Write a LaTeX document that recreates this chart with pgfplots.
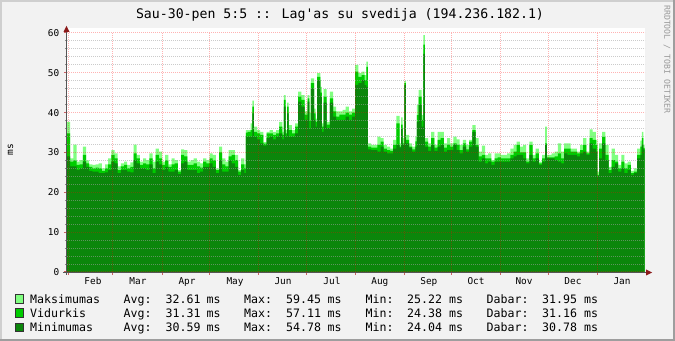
\documentclass[border=0pt]{standalone}
\usepackage{fontspec}
\usepackage{pgfplots}
\pgfplotsset{compat=1.18}
\usepackage{pgfplotstable}
\newfontfamily\mono{DejaVu Sans Mono}
\definecolor{bg}{HTML}{F2F2F2}
\definecolor{shadeA}{HTML}{CFCFCF}
\definecolor{shadeB}{HTML}{9E9E9E}
\definecolor{gmax}{HTML}{80FF80}
\definecolor{gavg}{HTML}{00CC00}
\definecolor{gmin}{HTML}{0B860B}
\definecolor{axisc}{HTML}{555555}
\definecolor{arrowc}{HTML}{8B1A1A}
\pgfplotstableread{
d mx av mn
0 37.7 34.8 29.0
2 28.5 27.7 26.5
4 32.0 28.0 26.5
6 27.7 26.9 25.6
8 28.1 27.0 26.0
10 31.5 29.4 27.7
12 28.0 27.3 26.4
14 27.0 26.4 25.4
16 26.9 26.0 25.2
18 27.0 26.2 25.2
20 27.3 26.0 24.8
22 26.0 25.4 24.8
24 27.0 26.0 25.0
26 28.5 27.0 25.6
28 30.6 29.4 27.7
30 29.8 28.5 27.3
32 26.5 25.6 24.8
34 27.3 26.5 25.6
36 27.7 26.9 25.6
38 26.9 26.0 25.2
40 27.5 26.4 25.0
42 32.0 29.8 28.1
44 29.4 28.5 27.3
46 27.7 26.9 26.0
48 28.5 27.3 26.0
50 28.1 27.0 25.6
52 29.8 28.5 27.0
54 27.7 26.0 24.8
56 31.0 29.4 27.7
58 30.2 28.5 27.0
60 27.7 26.9 25.6
62 29.4 28.0 26.4
64 27.0 26.4 25.2
66 28.5 27.0 25.2
68 28.1 27.3 25.6
70 25.6 25.2 24.6
72 30.8 29.4 27.3
74 30.6 29.0 27.7
76 27.7 26.9 25.6
78 28.1 26.9 25.6
80 28.5 27.3 25.6
82 27.7 26.5 24.8
84 27.3 26.2 25.2
86 28.5 27.7 26.4
88 28.1 27.3 26.4
90 29.8 28.5 27.3
92 29.4 28.0 26.4
94 26.0 25.6 24.8
96 31.5 30.0 28.1
98 28.5 27.0 25.2
100 27.7 26.5 25.2
102 30.6 29.0 28.0
104 30.6 29.4 27.3
106 29.4 28.1 26.4
108 25.6 25.2 24.4
110 28.5 27.0 25.6
112 27.0 26.0 24.8
113 35.6 35.0 34.0
114 35.6 35.2 34.0
116 37.3 35.6 34.0
117 43.0 41.5 39.8
118 36.5 35.2 34.0
120 35.6 34.8 33.3
122 35.2 34.4 32.3
124 32.6 32.2 31.7
126 35.2 34.8 33.6
128 35.6 34.8 34.0
130 35.2 34.4 33.3
132 35.6 34.8 34.0
134 37.7 36.5 34.8
136 35.2 34.4 33.3
137 44.4 43.2 41.5
138 35.6 34.8 34.0
139 42.5 41.5 39.8
140 36.9 35.6 34.0
142 35.6 34.8 34.0
144 37.3 36.5 34.8
146 45.3 44.0 42.8
148 44.4 43.2 41.5
150 40.3 39.5 38.2
152 44.4 43.6 42.8
153 40.0 38.0 36.0
154 48.6 47.4 46.1
156 41.0 39.8 38.2
157 38.5 37.7 36.5
158 49.9 49.0 48.2
160 46.5 45.0 44.0
161 37.3 36.5 35.2
162 45.9 44.0 42.5
164 37.7 37.0 36.1
166 45.3 43.6 42.5
168 41.5 40.3 39.0
170 40.3 39.0 38.2
172 40.3 39.5 38.2
174 40.7 39.5 38.2
176 41.5 40.0 39.0
178 40.3 39.5 38.2
180 41.0 40.0 39.0
182 52.0 50.3 47.0
184 49.9 49.0 47.4
186 50.3 49.4 48.2
188 49.4 48.2 46.9
189 52.8 51.5 46.5
190 32.3 31.5 30.8
192 31.9 31.2 30.6
194 31.9 31.2 30.6
196 34.0 31.9 30.2
198 33.6 32.7 31.5
200 31.9 31.0 30.2
202 31.5 30.6 29.8
204 31.0 30.4 29.8
206 33.2 31.9 31.0
208 39.2 37.3 31.9
210 32.3 31.5 31.2
211 38.8 37.0 36.0
212 33.6 32.3 31.9
213 48.0 47.4 46.9
214 34.4 33.2 32.3
216 32.3 31.5 31.2
218 31.5 30.8 30.2
220 34.0 32.8 31.5
221 41.9 39.4 37.7
222 45.7 44.0 42.0
224 39.4 38.2 36.5
225 59.45 57.11 54.78
226 33.6 32.7 31.5
228 32.3 31.5 30.4
230 35.2 33.6 31.9
232 31.9 31.2 30.4
234 35.2 33.2 31.5
236 35.2 33.6 31.9
238 32.3 31.2 30.2
240 33.6 32.0 30.6
242 32.3 31.5 30.6
244 34.0 32.3 31.9
246 33.3 31.9 30.6
248 31.9 30.6 29.8
250 33.2 32.3 31.5
252 31.9 30.8 30.2
254 33.2 32.7 31.5
256 36.9 35.6 35.2
258 33.6 31.9 31.5
260 30.2 29.0 27.7
262 31.7 29.4 28.5
264 29.4 28.5 27.3
266 29.8 28.5 27.7
268 28.1 27.7 26.9
270 29.8 28.5 27.7
272 29.8 28.8 27.7
274 29.4 28.5 27.7
276 29.4 28.5 27.7
278 29.8 28.5 27.7
280 31.0 29.4 28.5
282 31.9 30.2 29.0
284 32.7 31.9 29.4
286 31.5 30.0 29.4
288 31.9 30.0 28.5
290 28.5 27.7 27.3
292 32.7 31.9 29.4
294 29.4 28.5 27.7
296 31.0 29.8 28.5
298 27.7 27.3 26.9
300 29.4 28.5 27.7
302 36.5 32.3 31.9
303 29.4 28.8 28.5
304 29.4 28.8 28.5
306 29.8 28.8 28.5
308 30.2 29.0 28.1
310 32.3 29.8 27.7
312 30.2 28.5 27.3
314 32.3 31.0 29.8
316 32.3 31.0 29.4
318 31.0 30.2 29.4
320 31.0 30.2 29.4
322 30.2 29.8 29.0
324 31.9 30.6 29.8
326 33.6 31.9 30.2
328 30.2 29.8 29.4
330 35.8 33.6 32.3
332 35.2 33.2 31.0
334 33.2 31.9 30.2
335 25.22 24.38 24.04
336 32.3 31.0 28.5
338 35.2 33.9 32.3
340 31.9 29.4 28.1
342 26.4 25.6 24.8
344 31.0 28.1 26.4
346 29.4 27.7 27.3
348 26.9 26.0 25.2
350 29.4 27.7 26.0
352 27.3 26.0 24.8
354 27.7 26.9 25.6
356 25.4 24.8 24.4
358 26.0 25.2 24.8
360 31.0 29.4 28.5
362 33.0 31.5 29.4
363 35.2 33.6 31.9
364 31.95 31.16 30.78
364.7 31.95 31.16 30.78
}\data
\newcommand{\lf}{\mono\fontsize{11.6bp}{13bp}\selectfont}
\begin{document}
\begin{tikzpicture}
\path[use as bounding box] (0,0) rectangle (675bp,341bp);
\fill[bg] (0,0) rectangle (675bp,341bp);
\fill[shadeA] (0,0) rectangle (2bp,341bp);
\fill[shadeA] (0,339bp) rectangle (675bp,341bp);
\fill[shadeB] (673bp,0) rectangle (675bp,341bp);
\fill[shadeB] (0,0) rectangle (675bp,2bp);
\fill[white] (67bp,69bp) rectangle (645bp,313bp);
\begin{axis}[
  at={(67bp,69bp)}, anchor=south west, scale only axis,
  width=578bp, height=239bp,
  xmin=0, xmax=365, ymin=0, ymax=60,
  axis line style={draw=none},
  axis on top,
  xtick={1,29,60,90,121,151,182,213,243,274,304,335},
  xticklabels={},
  extra x ticks={16.4,44.8,75.8,106.1,136.4,167.3,197.6,228.5,258.3,288.6,319.5,350.5},
  extra x tick labels={Feb,Mar,Apr,May,Jun,Jul,Aug,Sep,Oct,Nov,Dec,Jan},
  extra x tick style={grid=none, major tick length=0pt},
  ytick={0,10,20,30,40,50,60},
  minor y tick num=4,
  xmajorgrids, ymajorgrids, yminorgrids,
  major grid style={draw=red, opacity=0.3, line width=1bp, dash pattern=on 1bp off 1bp},
  minor grid style={draw=black!37, opacity=0.55, line width=1bp, dash pattern=on 1bp off 1bp},
  tick align=outside, xtick pos=bottom, ytick pos=left,
  major tick length=3bp, minor tick length=2bp,
  major tick style={draw=red!70!black, opacity=0.6, line width=1bp},
  minor tick style={draw=black!45, line width=1bp},
  /pgf/number format/assume math mode=true,
  ticklabel style={font=\mono\fontsize{9.4bp}{11bp}\selectfont, text=black},
  yticklabel style={inner sep=0pt, xshift=-4.5bp},
  xticklabel style={anchor=base, inner sep=0pt, yshift=-13bp},
]
\addplot[const plot, fill=gmax, draw=none] table[x=d, y=mx] {\data} \closedcycle;
\addplot[const plot, fill=gavg, draw=none] table[x=d, y=av] {\data} \closedcycle;
\addplot[const plot, fill=gmin, draw=none] table[x=d, y=mn] {\data} \closedcycle;
\end{axis}
% axis lines
\draw[axisc, line width=1bp] (63bp,68.5bp) -- (647bp,68.5bp);
\fill[arrowc] (646bp,65.5bp) -- (652bp,68.5bp) -- (646bp,71.5bp) -- cycle;
\draw[axisc, line width=1bp] (66.5bp,66bp) -- (66.5bp,310bp);
\fill[arrowc] (63.5bp,309bp) -- (66.5bp,315bp) -- (69.5bp,309bp) -- cycle;
% title
\node[anchor=base, inner sep=0pt, font=\mono\fontsize{13.2bp}{15bp}\selectfont] at (340bp,322.5bp) {Sau-30-pen 5:5 :: Lag'as su svedija (194.236.182.1)};
% y label
\node[rotate=90, inner sep=0pt, font=\mono\fontsize{9.5bp}{11bp}\selectfont] at (10.5bp,191bp) {ms};
% watermark
\node[rotate=-90, anchor=west, inner sep=0pt, text=black!40, font=\mono\fontsize{8.2bp}{9bp}\selectfont] at (667bp,336bp) {RRDTOOL / TOBI OETIKER};
% legend
\foreach \c/\yb/\nm/\a/\mx/\mi/\cu in {gmax/38/Maksimumas/32.61/59.45/25.22/31.95, gavg/23.7/Vidurkis/31.31/57.11/24.38/31.16, gmin/9.4/Minimumas/30.59/54.78/24.04/30.78}{
  \filldraw[fill=\c, draw=black!80, line width=0.8bp] (15.5bp,\yb bp) rectangle (23.5bp,\yb bp+8.5bp);
  \node[anchor=base west, inner sep=0pt, font=\lf] at (30bp,\yb bp) {\nm};
  \node[anchor=base west, inner sep=0pt, font=\lf] at (123.5bp,\yb bp) {Avg:};
  \node[anchor=base west, inner sep=0pt, font=\lf] at (165.5bp,\yb bp) {\a};
  \node[anchor=base west, inner sep=0pt, font=\lf] at (206.5bp,\yb bp) {ms};
  \node[anchor=base west, inner sep=0pt, font=\lf] at (244bp,\yb bp) {Max:};
  \node[anchor=base west, inner sep=0pt, font=\lf] at (286bp,\yb bp) {\mx};
  \node[anchor=base west, inner sep=0pt, font=\lf] at (327.5bp,\yb bp) {ms};
  \node[anchor=base west, inner sep=0pt, font=\lf] at (365.5bp,\yb bp) {Min:};
  \node[anchor=base west, inner sep=0pt, font=\lf] at (407bp,\yb bp) {\mi};
  \node[anchor=base west, inner sep=0pt, font=\lf] at (449bp,\yb bp) {ms};
  \node[anchor=base west, inner sep=0pt, font=\lf] at (486.5bp,\yb bp) {Dabar:};
  \node[anchor=base west, inner sep=0pt, font=\lf] at (542bp,\yb bp) {\cu};
  \node[anchor=base west, inner sep=0pt, font=\lf] at (584bp,\yb bp) {ms};
}
\end{tikzpicture}
\end{document}
